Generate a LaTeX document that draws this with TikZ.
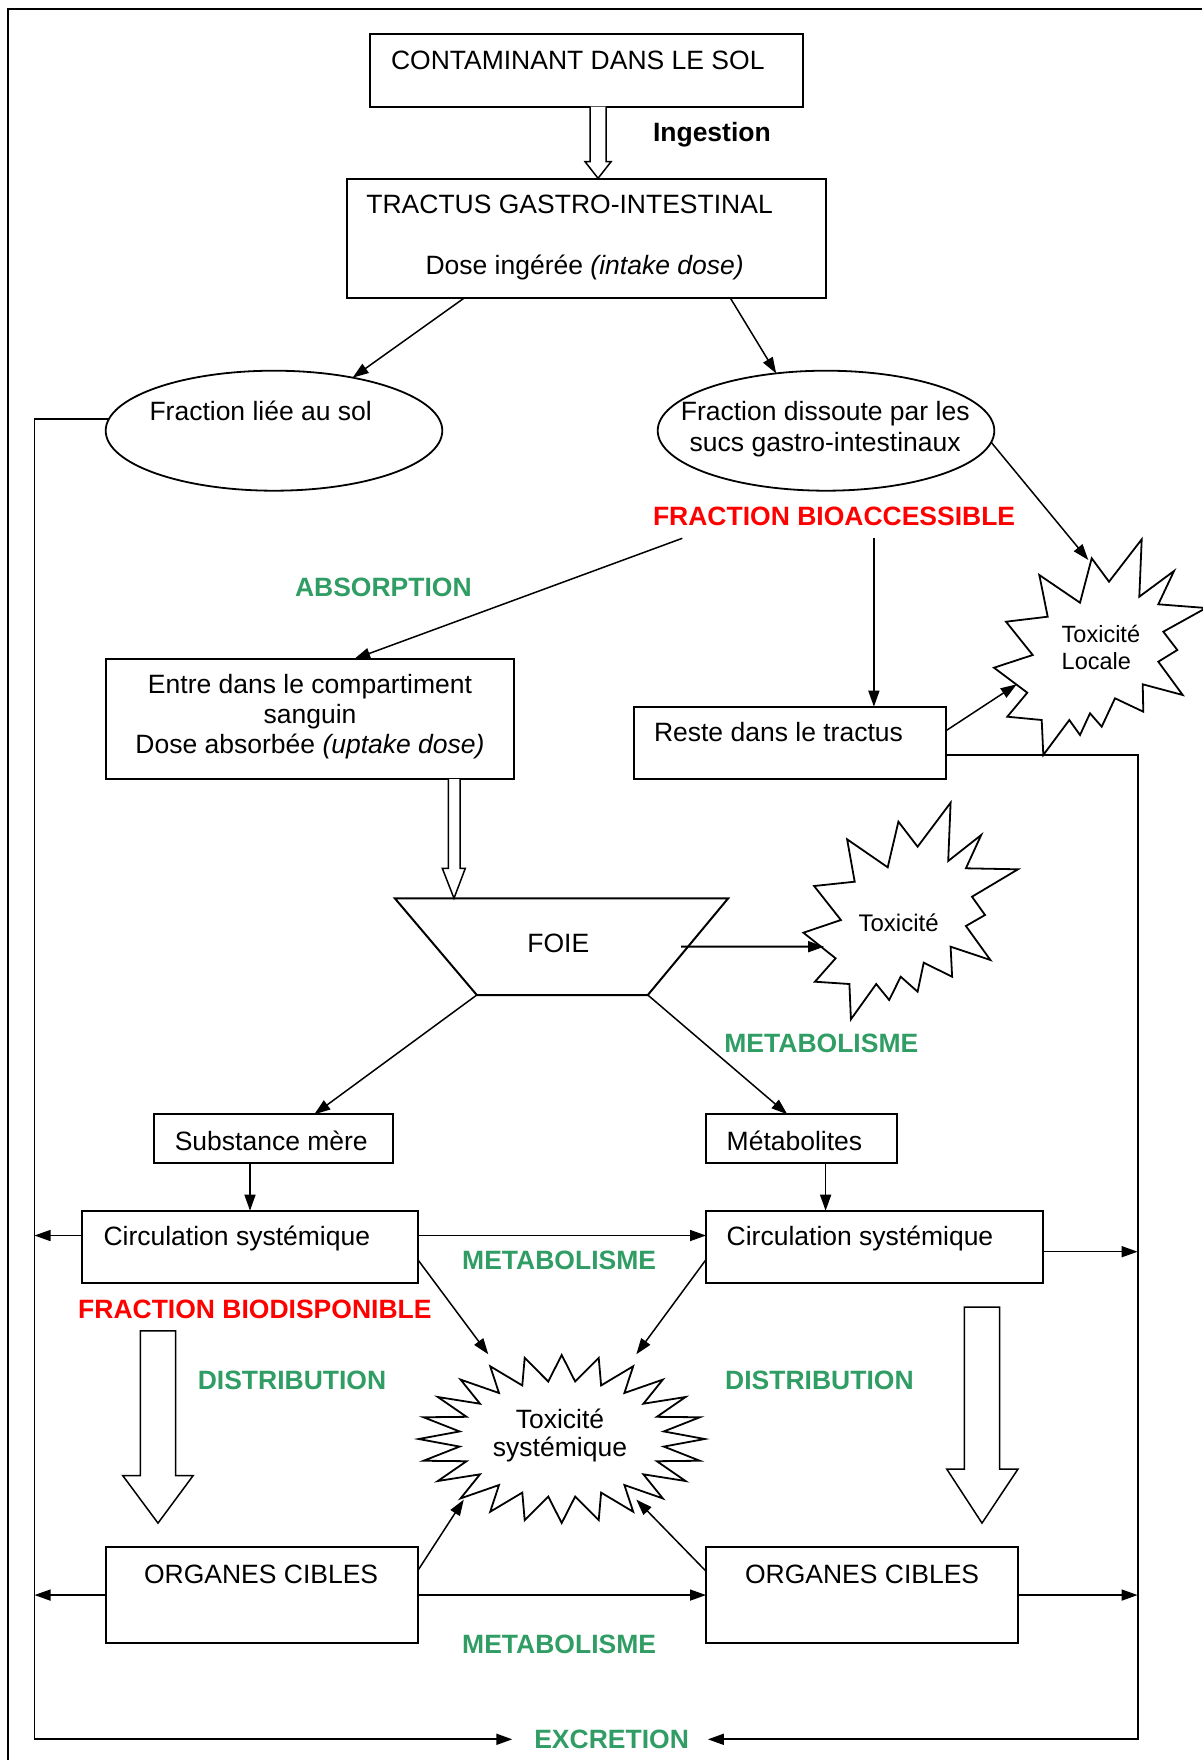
\documentclass[tikz,border=0pt]{standalone}
\usepackage{fontspec}
\setmainfont{Liberation Sans}
\usetikzlibrary{arrows.meta,shapes.geometric,calc}
\definecolor{vert}{RGB}{48,157,100}
\definecolor{rouge}{RGB}{255,0,0}
\begin{document}
\begin{tikzpicture}[x=1pt,y=-1pt,
  every node/.style={inner sep=0pt, outer sep=0pt, font=\fontsize{26.5}{30.5}\selectfont},
  box/.style={draw, line width=2pt, rectangle, anchor=north west},
  ell/.style={draw, line width=1.8pt, ellipse},
  arr/.style={line width=1.5pt, -{Triangle[length=16pt,width=11pt]}},
  lin/.style={line width=2pt},
  hollow/.style={line width=1.5pt, fill=white, line join=miter},
  starline/.style={line width=1.8pt, line join=miter, fill=white},
  gr/.style={text=vert, font=\fontsize{26.5}{30.5}\selectfont\bfseries},
  rd/.style={text=rouge, font=\fontsize{26.5}{30.5}\selectfont\bfseries},
  txt/.style={anchor=base west},
  ctxt/.style={anchor=base},
  small/.style={font=\fontsize{23.5}{27}\selectfont}
]
\useasboundingbox (0,0) rectangle (1202,1760);

% outer frame
\draw[line width=2pt] (1202,9.3) -- (7.7,9.3) -- (7.7,1760);

% top boxes
\node[box, minimum width=433.1pt, minimum height=72.4pt] (b1) at (369.5,34.3) {};
\node[txt] (t1) at (391,70) {CONTAMINANT DANS LE SOL};
\node[box, minimum width=479.1pt, minimum height=119.3pt] (b2) at (346.5,179) {};
\node[txt] (t2a) at (366.4,213.3) {TRACTUS GASTRO-INTESTINAL};
\node[txt] (t2b) at (425.5,275) {Dose ingérée \textit{(intake dose)}};
\node[txt, font=\fontsize{26.5}{30.5}\selectfont\bfseries] (ing) at (653,141.7) {Ingestion};
\draw[hollow] ($(b1.south)+(4,0)$) -- ++(0,55) -- ++(-5,0) -- ++(13,16.6) -- ++(13,-16.6) -- ++(-5,0) -- ++(0,-55);

% ellipses
\node[ell, minimum width=336.6pt, minimum height=120pt] (e1) at (274,430.7) {};
\node[txt] (te1) at (149.5,420) {Fraction liée au sol};
\node[ell, minimum width=336.6pt, minimum height=120pt] (e2) at (826,430.7) {};
\node[ctxt] (te2a) at (825.2,420) {Fraction dissoute par les};
\node[ctxt] (te2b) at (825.2,451.7) {sucs gastro-intestinaux};
\draw[arr] ($(b2.south west)+(117.3,0)$) -- (e1.34);
\draw[arr] ($(b2.south west)+(384,0)$) -- (e2.131);

% bioaccessible
\node[txt, rd] (fbacc) at (653,525) {FRACTION BIOACCESSIBLE};
\coordinate (fbA) at (682.3,538.3);
\coordinate (fbB) at (873.9,538.3);
\node[txt, gr] (abs) at (295,596.7) {ABSORPTION};

\node[box, minimum width=407.8pt, minimum height=120pt] (entre) at (105.8,659) {};
\node[ctxt] (te3a) at (310,693.3) {Entre dans le compartiment};
\node[ctxt] (te3b) at (310,723.3) {sanguin};
\node[ctxt] (te3c) at (310,753.3) {Dose absorbée \textit{(uptake dose)}};
\node[box, minimum width=312pt, minimum height=72.3pt] (reste) at (634,706.7) {};
\node[txt] (tr) at (654,741.7) {Reste dans le tractus};
\draw[arr] (fbA) -- ($(entre.north west)+(248.4,0)$);
\draw[arr] (fbB) -- (fbB |- reste.north);

% local toxicity star
\draw[starline] (1091.7,558.3) -- (1109,581.7) -- (1141.7,539.3) -- (1139.3,596.7) -- (1174,571) -- (1158.3,604.3) -- (1206,608) -- (1163.3,631.7) -- (1177.3,650) -- (1158.3,661.7) -- (1182.7,695) -- (1142.7,684.3) -- (1143.3,711.7) -- (1115,698.3) -- (1101.7,726.7) -- (1090,713.3) -- (1080,735) -- (1069.3,720) -- (1043.3,755) -- (1041.7,720) -- (1007.3,716.7) -- (1027.3,692.7) -- (994,667.7) -- (1032.7,655) -- (1006,621.7) -- (1047.7,616.7) -- (1039.3,575) -- (1080,602.7) -- cycle;
\node[txt, small] (tl1) at (1061.7,642.7) {Toxicité};
\node[txt, small] (tl2) at (1061.7,669.3) {Locale};
\coordinate (tlN) at (1088.3,560);
\coordinate (tlW) at (1016.7,684.3);
\draw[arr] (e2.-4) -- (tlN);
\draw[arr] ($(reste.north east)+(0,24)$) -- (tlW);

% side lines and excretion
\coordinate (R1) at (1137.6,1739.3);
\coordinate (L1) at (34.5,1739.3);
\node[txt, gr] (excr) at (534.3,1748.6) {EXCRETION};
\draw[arr, line width=1.8pt, shorten >=19pt] ($(reste.south east)+(0,-24)$) -| (R1) -- (R1 -| excr.east);
\draw[arr, line width=1.8pt, shorten >=22pt] (e1.176) -| (L1) -- (L1 -| excr.west);

% liver
\draw[hollow] ($(entre.south west)+(342.6,0)$) -- ++(0,89.3) -- ++(-6.1,0) -- ++(11.7,30) -- ++(11.3,-30) -- ++(-5.3,0) -- ++(0,-89.3);
\draw[lin, line join=miter] (394.8,898.3) coordinate (fTL) -- (728.2,898.3) coordinate (fTR) -- (647.8,995) coordinate (fBR) -- (476.8,995) coordinate (fBL) -- cycle;
\node[txt] (foie) at (527.4,952.7) {FOIE};

% toxicity star
\draw[starline] (950.6,802.7) -- (948.2,861) -- (981.2,835) -- (965.9,868.3) -- (1018,869.3) -- (972,896.7) -- (985,915) -- (965.9,926) -- (990.4,960) -- (950.6,946.7) -- (952.1,976.7) -- (923.7,962.7) -- (917.6,991.7) -- (900.7,976.7) -- (889.2,1000) -- (876.2,984) -- (850.9,1019.3) -- (849.4,984) -- (814.9,981.7) -- (835.6,958.3) -- (803.4,932.7) -- (840.9,920) -- (814.1,886) -- (854.7,881.7) -- (847.1,839.3) -- (887.7,867.3) -- (898.4,821.7) -- (917.6,846.7) -- cycle;
\node[txt, font=\fontsize{24}{28}\selectfont] (tx) at (858.6,931.7) {Toxicité};
\coordinate (txW) at (824,946.7);
\draw[arr, line width=2pt] ($(fTR)!0.5!(fBR)+(-7,0)$) -- (txW);

\node[txt, gr] (met1) at (724.4,1052.7) {METABOLISME};
\node[box, minimum width=239.3pt, minimum height=49pt] (subst) at (154,1114.3) {};
\node[txt] (ts) at (174.8,1150.7) {Substance mère};
\node[box, minimum width=191pt, minimum height=49pt] (metab) at (706,1114.3) {};
\node[txt] (tm) at (726.7,1150.7) {Métabolites};
\draw[arr] (fBL) -- ($(subst.north west)+(160.3,0)$);
\draw[arr] (fBR) -- ($(metab.north west)+(81.3,0)$);

% circulation
\node[box, minimum width=335.8pt, minimum height=72.3pt] (circL) at (82,1210.7) {};
\node[txt] (tcL) at (103.5,1245) {Circulation systémique};
\node[box, minimum width=336.5pt, minimum height=72.3pt] (circR) at (706,1210.7) {};
\node[txt] (tcR) at (726.7,1245) {Circulation systémique};
\draw[arr] ($(subst.south west)+(96,0)$) -- ($(circL.north west)+(168,0)$);
\draw[arr] ($(metab.south west)+(119.6,0)$) -- ($(circR.north west)+(119.6,0)$);
\coordinate (cLw) at ($(circL.north west)+(0,24.8)$);
\draw[arr] (cLw) -- (cLw -| L1);
\draw[arr] (cLw -| circL.east) -- (cLw -| circR.west);
\coordinate (cRe) at ($(circR.north east)+(0,41)$);
\draw[arr] (cRe) -- (cRe -| R1);
\node[txt, gr] (met2) at (462.2,1269.2) {METABOLISME};
\node[txt, rd] (fbdis) at (78.2,1318.2) {FRACTION BIODISPONIBLE};

% distribution arrows
\draw[hollow] (140.3,1330.9) -- (140.3,1475.5) -- (122.7,1475.5) -- (158,1523.1) -- (193.2,1475.5) -- (175.5,1475.5) -- (175.5,1330.9) -- cycle;
\draw[hollow] (964.3,1307.1) -- (964.3,1469) -- (946.7,1469) -- (982,1523.1) -- (1018,1469) -- (999.6,1469) -- (999.6,1307.1) -- cycle;
\node[txt, gr] (dis1) at (197.8,1389.4) {DISTRIBUTION};
\node[txt, gr] (dis2) at (725.2,1389.4) {DISTRIBUTION};

% systemic toxicity star
\draw[starline] plot[samples at={0,1,...,47}, variable=\k] ({561.7+(103+40*mod(\k+1,2))*cos(\k*7.5)}, {1439+(58+26*mod(\k+1,2))*sin(\k*7.5)}) -- cycle;
\node[ctxt] (ts1) at (560,1428.3) {Toxicité};
\node[ctxt] (ts2) at (560,1456.7) {systémique};
\coordinate (sNW) at (488.3,1354.3);
\coordinate (sNE) at (636.3,1354.3);
\coordinate (sSW) at (463.8,1499.6);
\coordinate (sSE) at (636.3,1499.6);

% organs
\node[box, minimum width=312pt, minimum height=95.7pt] (orgL) at (105.8,1547.2) {};
\node[txt] (toL) at (144,1583.3) {ORGANES CIBLES};
\node[box, minimum width=312pt, minimum height=95.7pt] (orgR) at (706,1547.2) {};
\node[txt] (toR) at (745,1583.3) {ORGANES CIBLES};
\draw[arr] ($(circL.north east)+(0,48.9)$) -- (sNW);
\draw[arr] ($(circR.north west)+(0,48.9)$) -- (sNE);
\draw[arr] ($(orgL.north east)+(0,23.4)$) -- (sSW);
\draw[arr] ($(orgR.north west)+(0,24)$) -- (sSE);
\draw[arr] (orgL.west) -- (orgL.west -| L1);
\draw[arr] (orgL.east) -- (orgR.west);
\draw[arr] (orgR.east) -- (orgR.east -| R1);
\node[txt, gr] (met3) at (462.2,1653.2) {METABOLISME};
\end{tikzpicture}
\end{document}
